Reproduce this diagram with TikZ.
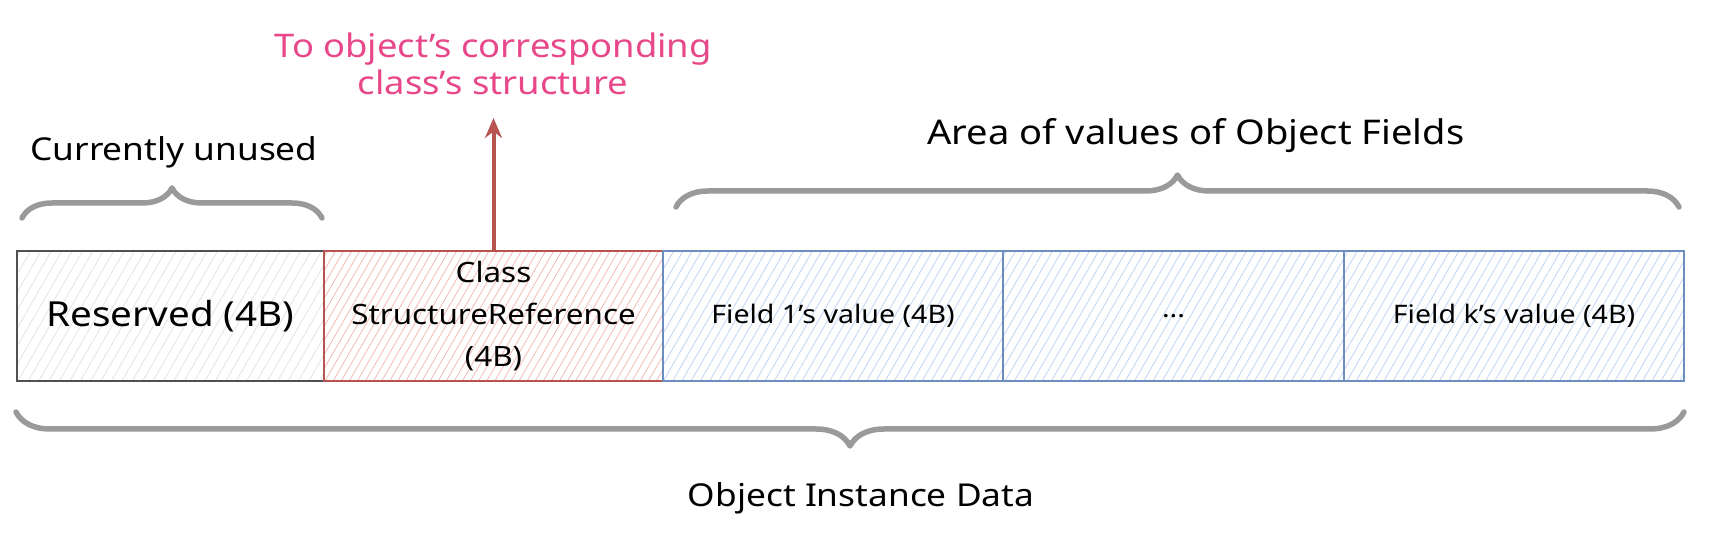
\documentclass[tikz,border=0pt]{standalone}
\usepackage{fontspec}
\setmainfont[FakeStretch=1.12]{Noto Sans}
\usetikzlibrary{patterns.meta,decorations.pathreplacing,arrows.meta}
\definecolor{grayline}{HTML}{505050}
\definecolor{grayhatch}{HTML}{E2E2E2}
\definecolor{redline}{HTML}{B85450}
\definecolor{redhatch}{HTML}{F5BDBB}
\definecolor{blueline}{HTML}{6C8EBF}
\definecolor{bluehatch}{HTML}{C6D8F5}
\definecolor{pinktext}{HTML}{E8488A}
\definecolor{bracegray}{HTML}{9A9A9A}
\tikzset{
  cell/.style={rectangle, minimum height=130pt, inner sep=0pt, outer sep=0pt, line width=1.8pt, align=center, text=black},
  graycell/.style={cell, draw=grayline, pattern={Lines[angle=60,distance=9pt,line width=0.8pt]}, pattern color=grayhatch},
  redcell/.style={cell, draw=redline, pattern={Lines[angle=60,distance=7pt,line width=0.9pt]}, pattern color=redhatch},
  bluecell/.style={cell, draw=blueline, pattern={Lines[angle=60,distance=8pt,line width=0.9pt]}, pattern color=bluehatch},
  bracestyle/.style={draw=bracegray, line width=5.5pt, line cap=round, line join=round},
  lbl/.style={inner sep=0pt, text=black}
}
\begin{document}
\begin{tikzpicture}[x=1pt,y=1pt]
\useasboundingbox (0,0) rectangle (1709,538);
% cells
\node[graycell, minimum width=307pt, font=\fontsize{34.5}{40}\selectfont] (res) at (170.5,222) {Reserved (4B)};
\node[redcell, minimum width=339pt, font=\fontsize{28}{42}\selectfont] (csr) at (493.5,222) {Class\\StructureReference\\(4B)};
\node[bluecell, minimum width=340pt, font=\fontsize{25.5}{30}\selectfont] (f1) at (833,222) {Field 1's value (4B)};
\node[bluecell, minimum width=341pt, font=\fontsize{25.5}{30}\selectfont] (fm) at (1173.5,222) {...};
\node[bluecell, minimum width=340pt, font=\fontsize{25.5}{30}\selectfont] (fk) at (1514,222) {Field k's value (4B)};
% arrow
\coordinate (arrowtip) at (493.5,420);
\draw[redline, line width=4pt, -{Stealth[length=20pt,width=17pt]}] (csr.north) -- (arrowtip);
\node[lbl, text=pinktext, align=center, font=\fontsize{32.5}{37}\selectfont] (totext) at (493,474) {To object's corresponding\\class's structure};
% braces
\coordinate (b1l) at (22,320);
\coordinate (b1r) at (322,320);
\draw[bracestyle, decorate, decoration={brace, amplitude=30pt}] (b1l) -- (b1r);
\node[lbl, font=\fontsize{31.5}{36}\selectfont] (unused) at (174,386) {Currently unused};
\coordinate (b2l) at (676,331);
\coordinate (b2r) at (1679,331);
\draw[bracestyle, decorate, decoration={brace, amplitude=32pt}] (b2l) -- (b2r);
\node[lbl, font=\fontsize{34}{40}\selectfont] (area) at (1196,402) {Area of values of Object Fields};
\coordinate (b3l) at (16,126);
\coordinate (b3r) at (1684,126);
\draw[bracestyle, decorate, decoration={brace, mirror, amplitude=34pt}] (b3l) -- (b3r);
\node[lbl, font=\fontsize{31.5}{36}\selectfont] (oid) at (861,40) {Object Instance Data};
\end{tikzpicture}
\end{document}
